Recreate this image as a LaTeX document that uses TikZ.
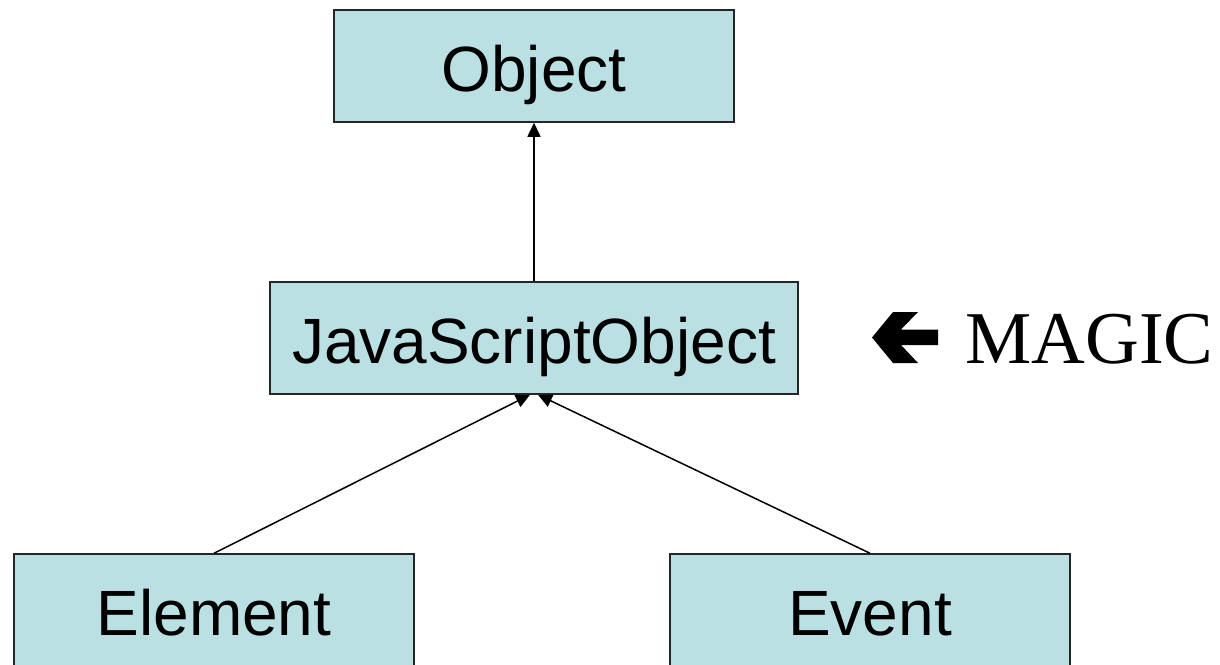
\documentclass[tikz,border=0pt]{standalone}
\usepackage{fontspec}
\setmainfont{Liberation Sans}
\newfontfamily\magicfont{Liberation Serif}
\usetikzlibrary{arrows.meta}
\definecolor{classfill}{HTML}{BBE0E3}
\tikzset{
  classbox/.style={draw=black!85, line width=1.5pt, fill=classfill,
    minimum width=400pt, minimum height=112pt, inner sep=0pt,
    text height=50pt, text depth=0pt,
    font=\fontsize{64}{68}\selectfont},
  inherit/.style={line width=1.5pt, -{Triangle[length=14pt,width=13pt]}}
}
\begin{document}
\begin{tikzpicture}[x=1pt,y=-1pt]
  \useasboundingbox (0,0) rectangle (1220,664);
  \clip (0,0) rectangle (1220,664);

  % class boxes
  \node[classbox] (obj) at (534,66) {Object};
  \node[classbox, minimum width=528pt] (jso) at (534,338) {JavaScriptObject};
  \node[classbox] (elem) at (214,610) {Element};
  \node[classbox] (evt) at (870,610) {Event};

  % inheritance links
  \draw[inherit] (jso.north) -- (obj.south);
  \draw[inherit] (elem.north) -- ([xshift=-4pt]jso.south);
  \draw[inherit] (evt.north) -- ([xshift=4pt]jso.south);

  % bold left arrow and label
  \fill (872,337.5) -- (893,312) -- (918,312) -- (901,329.5) -- (938,329.5)
        -- (938,345) -- (901,345) -- (918,363) -- (893,363) -- cycle;
  \node[anchor=base west, inner sep=0pt, font=\magicfont\fontsize{74.5}{78}\selectfont]
        (magic) at (965,363) {MAGIC};
\end{tikzpicture}
\end{document}
